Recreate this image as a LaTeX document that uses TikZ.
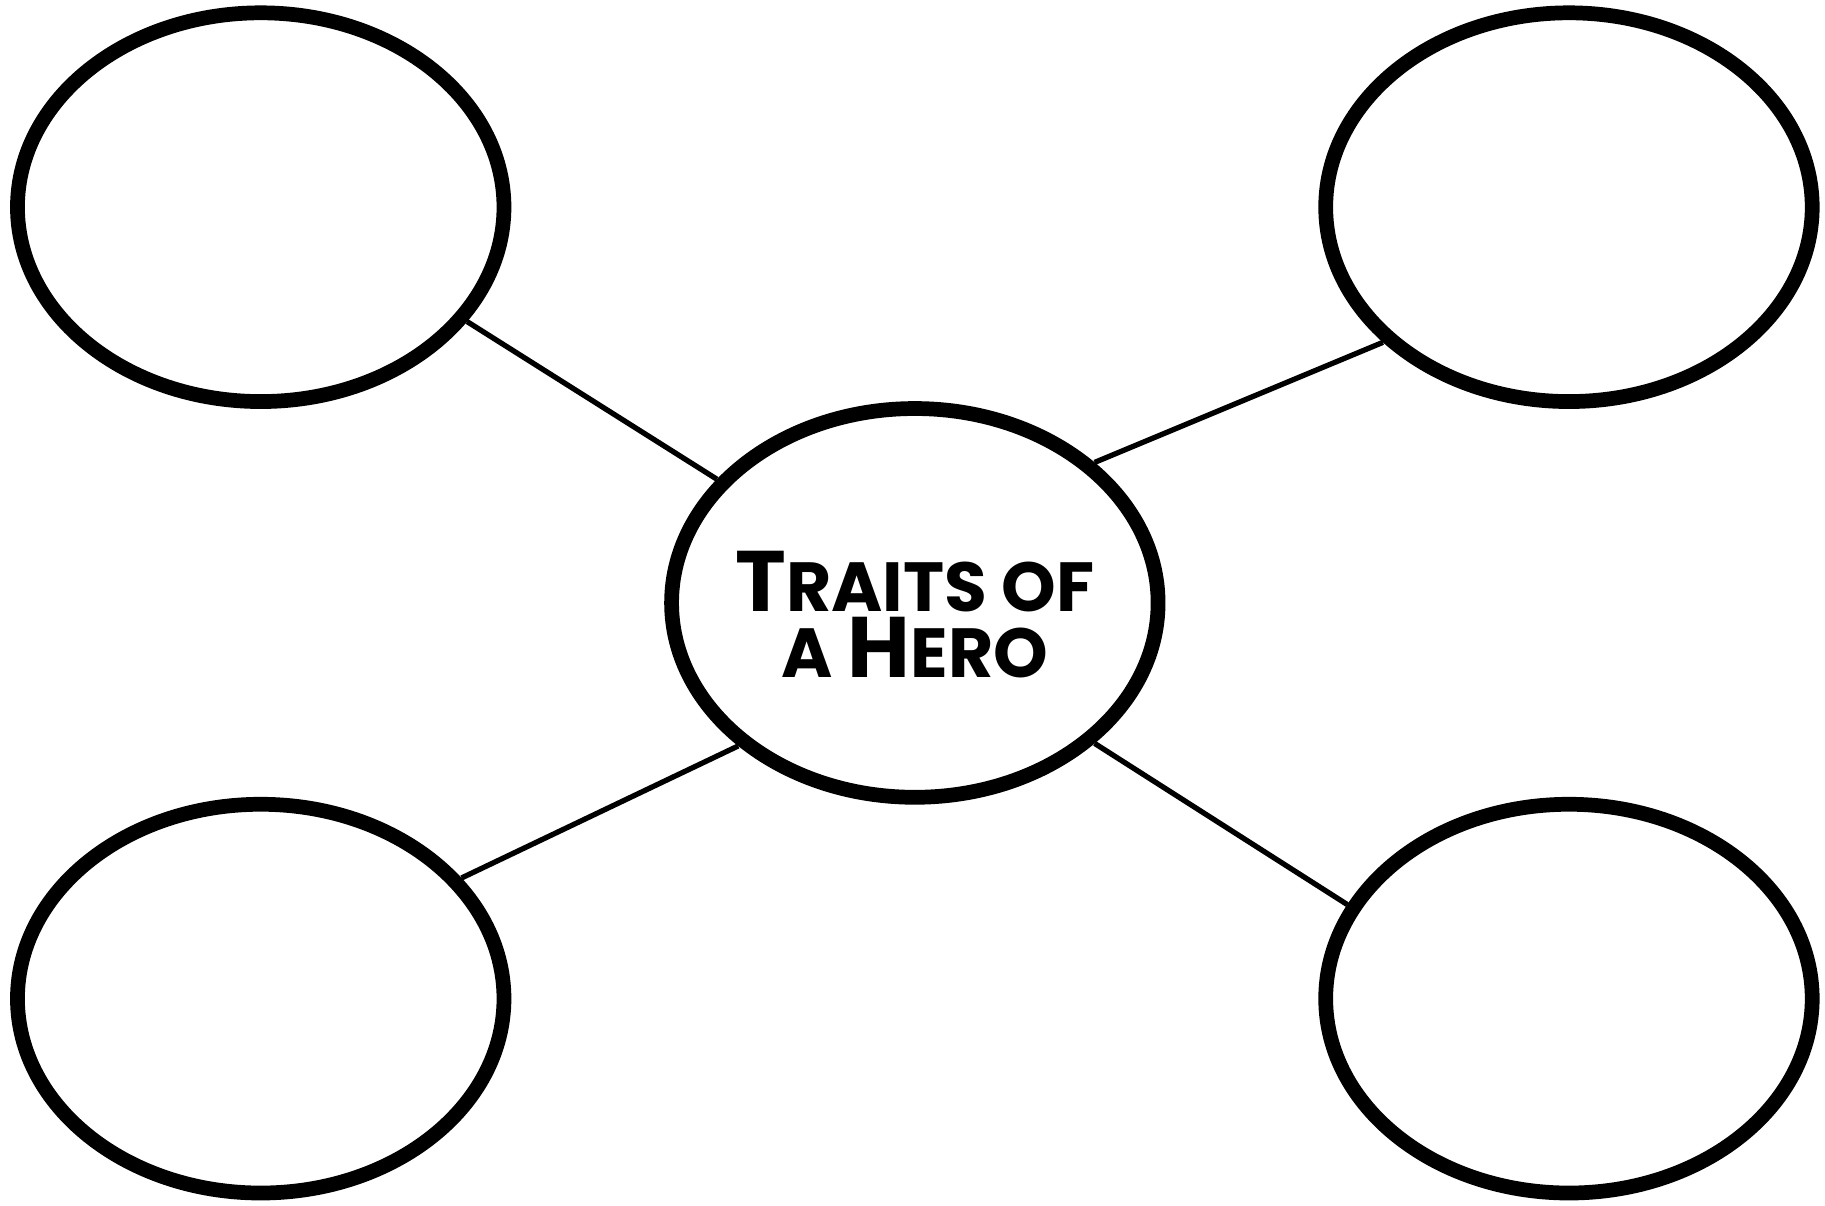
\documentclass[tikz,border=0pt]{standalone}
\usepackage{fontspec}
\setmainfont{Poppins}
\usetikzlibrary{shapes.geometric, shadows}
\tikzset{
  trait/.style={ellipse, draw=black, line width=3.6pt, fill=white,
    minimum width=4.18cm, minimum height=3.34cm,
    drop shadow={opacity=0.22, shadow xshift=0.025cm, shadow yshift=-0.03cm}},
  title/.style={font=\bfseries\fontsize{17}{16}\selectfont, align=center, inner sep=0pt},
  link/.style={line width=1.3pt, draw=black},
}
\newcommand{\capbig}[1]{{\fontsize{21}{16}\selectfont #1}}

\begin{document}
\begin{tikzpicture}
        \useasboundingbox (0,0) rectangle (15.68,-10.36);
        \node[trait] (hero) at (7.86,-5.18) {};
        \node[title] (heading) at ([yshift=-0.1cm]hero.center) {\capbig{T}RAITS OF\\A \capbig{H}ERO};
        \node[trait] (tl) at (2.24,-1.78) {};
        \node[trait] (tr) at (13.48,-1.78) {};
        \node[trait] (bl) at (2.24,-8.58) {};
        \node[trait] (br) at (13.48,-8.58) {};
        \draw[link](tl.331)--(hero.148);
        \draw[link](tr.216)--(hero.38);
        \draw[link](bl.31)--(hero.219);
        \draw[link](br.157)--(hero.322);
      \end{tikzpicture}
\end{document}
